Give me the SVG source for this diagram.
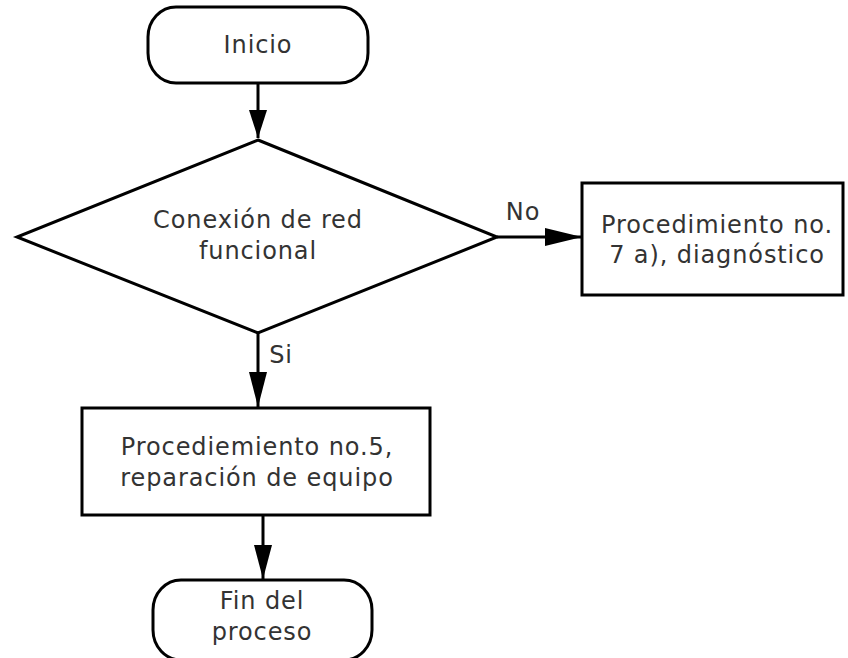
<svg xmlns="http://www.w3.org/2000/svg" width="848" height="658" viewBox="0 0 848 658">
<defs>
<style>
.s{fill:#fff;stroke:#000;stroke-width:3}
.t{font-family:"DejaVu Sans",sans-serif;font-size:24px;letter-spacing:0.9px;fill:#333;text-anchor:middle}
.c{stroke:#000;stroke-width:3;fill:none}
.a{fill:#000}
</style>
</defs>
<rect width="848" height="658" fill="#fff"/>
<g id="connectors">
<line class="c" x1="258" y1="83" x2="258" y2="138"/>
<polygon class="a" points="249,110 267,110 258,138"/>
<line class="c" x1="497" y1="237" x2="582" y2="237"/>
<polygon class="a" points="545,228 545,246 582,237"/>
<line class="c" x1="258" y1="333" x2="258" y2="407"/>
<polygon class="a" points="249,372 267,372 258,407"/>
<line class="c" x1="263" y1="515" x2="263" y2="579"/>
<polygon class="a" points="254,545 272,545 263,579"/>
<text class="t" x="523" y="220">No</text>
<text class="t" x="281" y="363">Si</text>
</g>
<g id="inicio">
<rect class="s" x="148" y="7" width="220" height="76" rx="28" ry="30"/>
<text class="t" x="258" y="53">Inicio</text>
</g>
<g id="decision">
<polygon class="s" points="258,140 497,237 258,333 17,237"/>
<text class="t" x="258" y="228">Conexión de red</text>
<text class="t" x="258" y="259">funcional</text>
</g>
<g id="proc7">
<rect class="s" x="582" y="183" width="261" height="112"/>
<text class="t" x="717" y="233">Procedimiento no.</text>
<text class="t" x="717" y="263"> 7 a), diagnóstico</text>
</g>
<g id="proc5">
<rect class="s" x="82" y="408" width="348" height="107"/>
<text class="t" x="257" y="455">Procediemiento no.5,</text>
<text class="t" x="257" y="486">reparación de equipo</text>
</g>
<g id="fin">
<rect class="s" x="153" y="580" width="219" height="80" rx="28" ry="30"/>
<text class="t" x="262" y="609">Fin del</text>
<text class="t" x="262" y="640">proceso</text>
</g>
</svg>
